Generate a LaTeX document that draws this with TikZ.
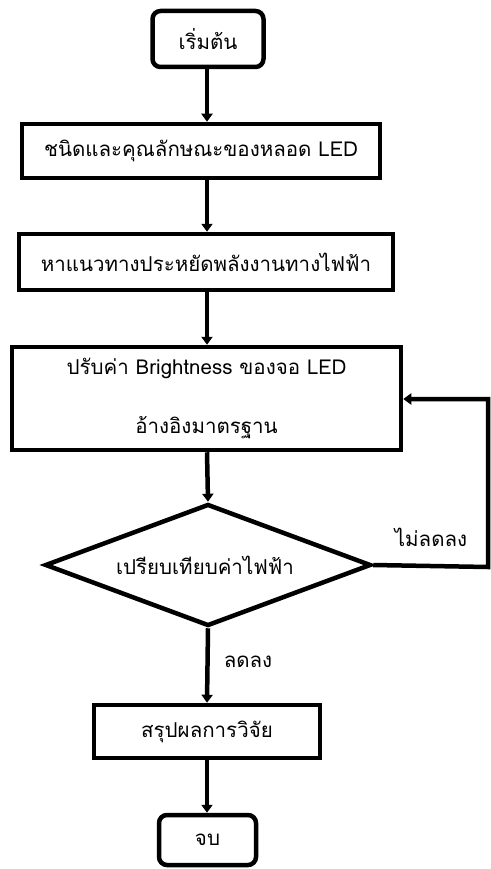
\documentclass[tikz,border=0pt]{standalone}
\usepackage{fontspec}
\newfontfamily\thaifont[Script=Thai]{Loma}
\usetikzlibrary{shapes.geometric,arrows.meta}
\begin{document}
\begin{tikzpicture}[x=1pt,y=1pt,
  every node/.style={font=\thaifont\fontsize{20.5}{24}\selectfont},
  box/.style={draw,line width=4.5pt,rectangle,inner sep=0pt,align=center},
  term/.style={box,rounded corners=8pt},
  dec/.style={draw,line width=4.5pt,diamond,inner sep=0pt,minimum width=326pt,minimum height=122pt,aspect=2.6},
  arr/.style={line width=4.5pt,-{Triangle[width=11pt,length=8pt]}},
  ln/.style={line width=4.5pt},
  lbl/.style={inner sep=0pt}]
\useasboundingbox (0,0) rectangle (490,-869);
\node[term,minimum width=111pt,minimum height=56pt] (start) at (208,-39) {เริ่มต้น};
\node[box,minimum width=358pt,minimum height=54pt] (b1) at (201,-151) {ชนิดและคุณลักษณะของหลอด LED};
\node[box,minimum width=374pt,minimum height=56pt] (b2) at (206,-262) {หาแนวทางประหยัดพลังงานทางไฟฟ้า};
\node[box,minimum width=389pt,minimum height=103pt] (b3) at (206.5,-398.5) {};
\node[lbl] (b3a) at (206.5,-368) {ปรับค่า Brightness ของจอ LED};
\node[lbl] (b3b) at (206.5,-428) {อ้างอิงมาตรฐาน};
\node[dec] (d) at (208,-565) {};
\node[lbl] (dt) at (205,-565) {เปรียบเทียบค่าไฟฟ้า};
\node[box,minimum width=226pt,minimum height=53pt] (b4) at (207,-731.5) {สรุปผลการวิจัย};
\node[term,minimum width=97pt,minimum height=50pt] (end) at (207.5,-840) {จบ};
\coordinate (c1) at (488,-567);
\coordinate (c2) at (488,-399);
\node[lbl] (no) at (431,-537) {ไม่ลดลง};
\node[lbl] (yes) at (248,-662) {ลดลง};
\draw[arr] (207,-39 |- start.south) -- (207,-39 |- b1.north);
\draw[arr] (207,-39 |- b1.south) -- (207,-39 |- b2.north);
\draw[arr] (207,-39 |- b2.south) -- (207,-39 |- b3.north);
\draw[arr] (207,-39 |- b3.south) -- (d.north);
\draw[arr] (d.south) -- (207,-39 |- b4.north);
\draw[arr] (207,-39 |- b4.south) -- (207,-39 |- end.north);
\draw[ln,arr] (d.east) -- (c1) -- (c2) -- (b3.east |- c2);
\end{tikzpicture}
\end{document}
